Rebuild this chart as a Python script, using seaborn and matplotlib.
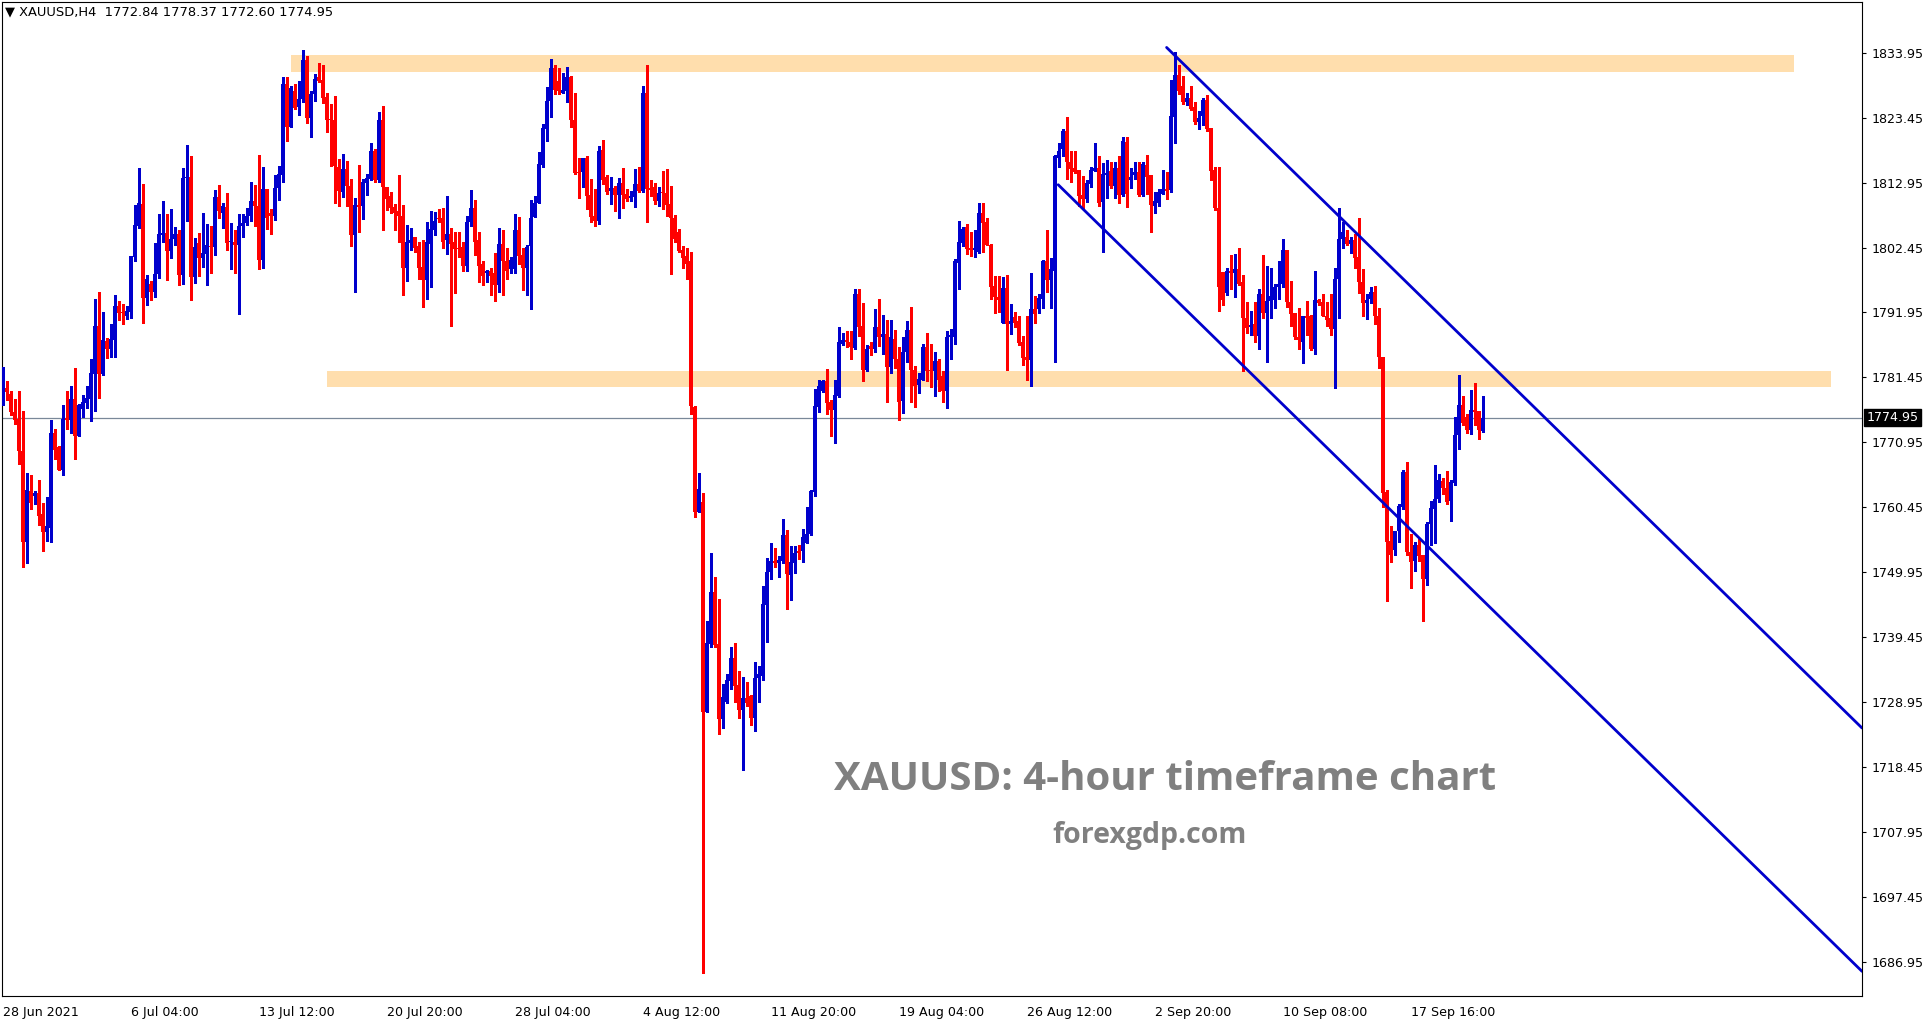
import numpy as np
import pandas as pd
import matplotlib
matplotlib.use("Agg")
import matplotlib.pyplot as plt
import seaborn as sns

# XAUUSD H4 candles (O, H, L, C)
opens = [
    1777.3, 1779.7, 1778.8, 1775.9, 1774.7, 1769.6, 1754.8, 1763.1, 1762.3, 1762.7,
    1759.3, 1756.4, 1757.1, 1772.4, 1770.2, 1766.4, 1774.9, 1774.6, 1778.0, 1771.9,
    1776.3, 1777.3, 1778.0, 1782.0, 1789.8, 1782.0, 1787.4, 1786.1, 1787.5, 1793.0,
    1792.0, 1791.3, 1792.0, 1800.9, 1806.0, 1809.5, 1794.3, 1796.5, 1795.2, 1798.2,
    1804.5, 1804.8, 1801.9, 1803.9, 1804.6, 1798.0, 1813.7, 1813.9, 1797.7, 1803.2,
    1800.7, 1801.4, 1802.7, 1802.6, 1810.6, 1808.1, 1809.0, 1803.3, 1803.4, 1802.9,
    1805.9, 1806.4, 1807.5, 1809.9, 1809.2, 1800.5, 1811.9, 1808.1, 1807.6, 1812.0,
    1814.2, 1828.9, 1822.0, 1827.7, 1825.2, 1826.4, 1832.7, 1823.4, 1827.2, 1830.1,
    1829.6, 1826.8, 1823.1, 1823.0, 1815.5, 1811.4, 1815.1, 1812.4, 1804.5, 1809.3,
    1809.1, 1812.9, 1813.6, 1818.1, 1813.3, 1823.1, 1812.2, 1810.8, 1809.0, 1808.4,
    1807.5, 1799.1, 1803.2, 1804.2, 1802.7, 1799.3, 1797.2, 1803.0, 1805.3, 1807.2,
    1807.2, 1803.6, 1804.6, 1803.4, 1802.4, 1802.6, 1799.4, 1806.6, 1808.8, 1803.6,
    1799.8, 1798.3, 1798.7, 1798.3, 1796.4, 1803.0, 1800.3, 1798.9, 1799.0, 1805.2,
    1801.2, 1799.1, 1802.7, 1807.4, 1809.7, 1815.8, 1821.6, 1826.1, 1831.5, 1829.3,
    1827.5, 1827.8, 1830.1, 1823.1, 1814.6, 1814.7, 1816.9, 1810.9, 1807.5, 1806.8,
    1818.2, 1813.8, 1811.6, 1812.0, 1810.9, 1812.9, 1811.1, 1810.5, 1810.6, 1812.7,
    1811.6, 1827.5, 1812.1, 1812.3, 1810.0, 1811.3, 1811.3, 1809.5, 1807.2, 1805.0,
    1802.0, 1801.0, 1800.2, 1776.7, 1759.7, 1761.3, 1727.4, 1738.3, 1746.8, 1738.3,
    1726.2, 1728.9, 1732.3, 1736.1, 1731.7, 1727.7, 1729.6, 1730.0, 1726.4, 1732.8,
    1733.2, 1744.7, 1749.9, 1751.7, 1751.4, 1751.8, 1756.0, 1749.5, 1751.5, 1753.4,
    1753.3, 1754.7, 1756.1, 1762.9, 1776.7, 1779.2, 1780.9, 1777.4, 1776.2, 1778.4,
    1786.9, 1787.5, 1787.2, 1786.2, 1794.9, 1789.8, 1782.6, 1786.5, 1786.0, 1789.6,
    1787.9, 1788.5, 1783.2, 1787.7, 1784.5, 1777.7, 1785.5, 1789.1, 1782.7, 1780.2,
    1781.1, 1786.3, 1782.7, 1782.4, 1784.1, 1781.7, 1779.3, 1787.9, 1788.0, 1800.0,
    1803.2, 1805.7, 1802.3, 1802.1, 1801.8, 1808.1, 1806.5, 1802.9, 1796.2, 1794.5,
    1790.2, 1795.9, 1790.0, 1791.2, 1790.5, 1787.1, 1784.8, 1784.3, 1792.5, 1792.5,
    1794.1, 1800.2, 1797.2, 1798.7, 1817.0, 1818.3, 1821.3, 1816.3, 1815.3, 1815.0,
    1811.0, 1810.3, 1812.7, 1814.9, 1815.3, 1809.8, 1814.1, 1814.8, 1812.4, 1815.3,
    1811.0, 1819.5, 1813.4, 1814.1, 1814.6, 1811.0, 1815.8, 1814.2, 1809.2, 1809.7,
    1811.1, 1811.9, 1811.7, 1823.6, 1830.3, 1828.6, 1825.9, 1826.7, 1825.1, 1822.8,
    1823.7, 1826.3, 1821.7, 1815.0, 1808.9, 1798.5, 1795.1, 1798.7, 1798.4, 1799.0,
    1796.9, 1791.1, 1789.6, 1790.1, 1788.2, 1794.9, 1791.9, 1793.8, 1793.9, 1796.0,
    1796.5, 1802.0, 1793.7, 1791.9, 1787.9, 1787.2, 1791.3, 1791.3, 1786.0, 1794.0,
    1793.7, 1791.4, 1791.1, 1789.2, 1797.3, 1803.8, 1804.1, 1803.0, 1803.7, 1800.9,
    1796.9, 1793.4, 1794.2, 1795.3, 1791.4, 1784.8, 1762.9, 1755.0, 1753.6, 1756.6,
    1760.5, 1766.1, 1753.2, 1751.7, 1754.4, 1752.8, 1748.8, 1757.7, 1760.2, 1761.7,
    1764.7, 1763.6, 1761.4, 1764.4, 1772.1, 1776.9, 1775.1, 1772.9, 1776.1, 1776.0,
    1772.84,
]
highs = [
    1783.1, 1780.9, 1779.2, 1778.0, 1779.3, 1776.0, 1766.0, 1765.7, 1763.1, 1764.9,
    1761.1, 1762.1, 1774.6, 1773.1, 1770.4, 1776.9, 1779.3, 1780.0, 1782.9, 1777.1,
    1778.6, 1780.1, 1784.5, 1794.1, 1795.2, 1792.0, 1787.8, 1790.1, 1794.7, 1793.8,
    1793.3, 1793.0, 1801.1, 1809.4, 1815.3, 1812.7, 1798.0, 1797.0, 1803.2, 1807.9,
    1810.0, 1807.9, 1808.6, 1805.8, 1805.3, 1815.3, 1819.0, 1817.2, 1804.0, 1804.8,
    1808.0, 1806.2, 1806.0, 1811.8, 1812.6, 1809.6, 1811.2, 1806.4, 1805.3, 1807.8,
    1807.9, 1808.8, 1813.0, 1812.6, 1817.4, 1815.5, 1811.9, 1808.6, 1814.2, 1815.7,
    1830.1, 1830.1, 1828.5, 1828.9, 1829.4, 1834.4, 1833.4, 1827.7, 1830.5, 1832.3,
    1831.9, 1827.5, 1825.7, 1827.0, 1816.8, 1817.6, 1816.5, 1813.5, 1810.4, 1815.8,
    1813.5, 1814.3, 1819.3, 1818.4, 1824.3, 1825.4, 1812.2, 1811.5, 1809.5, 1814.1,
    1809.3, 1806.1, 1805.6, 1804.2, 1803.4, 1803.7, 1806.5, 1808.4, 1808.2, 1808.7,
    1808.8, 1810.7, 1805.6, 1805.0, 1805.0, 1803.4, 1807.6, 1811.7, 1810.2, 1805.0,
    1800.3, 1798.8, 1799.2, 1801.5, 1805.6, 1805.2, 1802.3, 1800.9, 1807.8, 1807.4,
    1802.3, 1802.9, 1810.1, 1810.7, 1817.9, 1822.4, 1828.4, 1832.9, 1832.0, 1831.5,
    1830.7, 1831.7, 1830.2, 1827.5, 1816.9, 1817.0, 1817.2, 1813.6, 1811.9, 1818.8,
    1819.8, 1814.2, 1813.8, 1812.4, 1813.7, 1815.3, 1811.9, 1811.6, 1815.2, 1815.5,
    1828.5, 1832.0, 1813.4, 1812.9, 1812.3, 1814.9, 1815.2, 1812.4, 1807.7, 1805.4,
    1802.7, 1802.3, 1801.8, 1776.8, 1766.0, 1762.7, 1742.1, 1753.0, 1749.1, 1745.6,
    1731.9, 1733.4, 1737.9, 1738.5, 1734.0, 1733.0, 1732.2, 1730.1, 1735.4, 1734.7,
    1747.7, 1752.3, 1754.6, 1753.9, 1752.6, 1758.5, 1756.7, 1754.2, 1754.2, 1754.3,
    1756.9, 1760.5, 1763.3, 1779.5, 1781.1, 1781.0, 1782.8, 1777.8, 1781.0, 1789.6,
    1788.7, 1788.9, 1788.9, 1795.7, 1795.7, 1793.4, 1786.7, 1787.2, 1792.5, 1794.1,
    1791.6, 1790.8, 1790.7, 1789.1, 1786.4, 1787.9, 1790.5, 1792.9, 1783.3, 1782.1,
    1786.8, 1788.7, 1786.9, 1785.6, 1784.5, 1782.4, 1789.0, 1789.3, 1800.6, 1806.8,
    1805.7, 1806.3, 1805.0, 1805.3, 1809.7, 1809.7, 1807.3, 1803.0, 1797.9, 1797.8,
    1797.6, 1798.0, 1793.3, 1792.1, 1791.4, 1788.1, 1791.3, 1798.3, 1794.6, 1794.9,
    1800.4, 1805.3, 1800.7, 1817.4, 1819.4, 1821.6, 1823.6, 1818.1, 1818.1, 1815.0,
    1814.0, 1813.3, 1815.4, 1819.4, 1817.3, 1816.1, 1816.6, 1816.2, 1816.2, 1817.3,
    1820.3, 1820.3, 1815.3, 1816.3, 1816.3, 1816.2, 1817.4, 1814.2, 1811.4, 1811.9,
    1815.0, 1814.6, 1829.6, 1834.1, 1832.0, 1830.2, 1827.4, 1828.6, 1825.9, 1824.6,
    1826.7, 1827.1, 1821.7, 1815.4, 1815.4, 1798.5, 1799.1, 1801.2, 1801.4, 1802.3,
    1798.0, 1793.6, 1792.2, 1793.6, 1795.7, 1801.2, 1799.5, 1799.2, 1796.6, 1800.2,
    1803.9, 1802.0, 1797.1, 1791.9, 1792.6, 1791.3, 1793.8, 1791.6, 1798.7, 1794.2,
    1795.0, 1793.7, 1795.0, 1799.2, 1808.8, 1806.6, 1805.3, 1804.1, 1804.7, 1807.3,
    1798.9, 1794.9, 1796.0, 1796.3, 1792.7, 1784.8, 1763.2, 1757.4, 1756.6, 1760.9,
    1766.4, 1767.8, 1756.2, 1754.8, 1755.3, 1752.8, 1758.1, 1761.5, 1767.3, 1765.8,
    1765.2, 1766.3, 1764.8, 1775.1, 1781.9, 1778.4, 1775.6, 1779.4, 1780.5, 1776.0,
    1778.37,
]
lows = [
    1777.0, 1777.8, 1775.4, 1773.9, 1767.4, 1750.8, 1751.4, 1760.2, 1760.9, 1757.6,
    1753.4, 1755.0, 1754.8, 1768.3, 1766.4, 1765.7, 1773.1, 1772.4, 1768.3, 1771.9,
    1775.1, 1776.5, 1774.4, 1776.0, 1778.1, 1781.9, 1784.6, 1784.7, 1784.7, 1790.8,
    1790.0, 1790.9, 1791.0, 1800.3, 1805.6, 1790.3, 1793.2, 1794.0, 1794.5, 1797.5,
    1803.4, 1797.2, 1800.7, 1802.9, 1796.4, 1796.5, 1806.8, 1794.0, 1796.7, 1797.8,
    1799.3, 1796.4, 1798.3, 1801.3, 1807.2, 1805.6, 1802.1, 1799.0, 1798.3, 1791.7,
    1804.1, 1806.1, 1806.7, 1806.0, 1798.9, 1799.1, 1805.4, 1804.7, 1806.9, 1810.1,
    1813.0, 1819.7, 1822.0, 1824.9, 1823.8, 1826.0, 1822.6, 1820.3, 1826.1, 1829.2,
    1825.8, 1821.1, 1815.6, 1809.7, 1809.1, 1810.6, 1809.1, 1802.7, 1795.2, 1805.0,
    1807.1, 1811.0, 1813.4, 1813.0, 1813.1, 1805.2, 1808.5, 1808.1, 1805.3, 1803.3,
    1794.8, 1797.0, 1802.1, 1801.7, 1797.4, 1792.9, 1794.2, 1796.1, 1804.5, 1806.5,
    1802.4, 1801.4, 1789.8, 1795.1, 1800.9, 1798.6, 1798.6, 1806.0, 1801.2, 1796.8,
    1796.4, 1796.8, 1794.8, 1793.8, 1795.3, 1794.8, 1797.4, 1798.3, 1798.3, 1799.8,
    1795.5, 1794.7, 1792.5, 1807.4, 1809.7, 1815.4, 1819.7, 1823.6, 1827.3, 1827.3,
    1827.4, 1826.0, 1822.0, 1814.3, 1810.4, 1812.2, 1808.7, 1806.5, 1806.0, 1806.2,
    1812.7, 1811.1, 1809.5, 1808.4, 1807.2, 1808.8, 1810.0, 1809.9, 1809.0, 1811.4,
    1811.4, 1806.6, 1810.7, 1809.5, 1809.2, 1808.6, 1807.6, 1798.1, 1803.3, 1801.7,
    1799.1, 1797.3, 1775.6, 1758.8, 1759.7, 1685.2, 1727.4, 1737.8, 1737.8, 1723.8,
    1724.7, 1728.8, 1731.1, 1728.9, 1726.3, 1717.9, 1728.3, 1725.2, 1724.2, 1729.0,
    1732.5, 1738.7, 1748.9, 1750.8, 1749.1, 1751.5, 1744.0, 1745.5, 1749.8, 1752.0,
    1751.6, 1754.6, 1756.0, 1762.3, 1775.9, 1779.1, 1775.6, 1772.0, 1770.9, 1778.3,
    1786.7, 1786.3, 1784.4, 1786.1, 1788.1, 1780.8, 1782.4, 1785.1, 1785.5, 1786.5,
    1785.3, 1777.4, 1782.2, 1782.9, 1774.6, 1775.7, 1783.9, 1777.4, 1776.6, 1778.9,
    1781.0, 1780.9, 1779.9, 1778.5, 1779.3, 1777.4, 1776.5, 1784.4, 1786.9, 1795.7,
    1802.7, 1801.4, 1801.0, 1800.9, 1801.6, 1801.7, 1802.8, 1794.1, 1791.9, 1792.0,
    1790.2, 1782.7, 1788.4, 1789.6, 1786.7, 1783.5, 1781.1, 1780.1, 1790.2, 1791.9,
    1792.6, 1795.2, 1792.6, 1783.9, 1815.5, 1817.3, 1813.6, 1813.0, 1814.5, 1809.2,
    1808.9, 1809.8, 1812.3, 1814.9, 1809.2, 1801.8, 1810.4, 1812.0, 1810.4, 1809.6,
    1810.8, 1809.0, 1812.1, 1813.5, 1810.7, 1810.8, 1811.1, 1805.0, 1808.1, 1809.1,
    1811.1, 1810.3, 1811.5, 1819.4, 1827.3, 1825.6, 1825.5, 1824.7, 1822.5, 1821.6,
    1822.3, 1821.3, 1813.3, 1808.5, 1792.2, 1793.1, 1794.8, 1795.8, 1794.5, 1796.4,
    1782.4, 1788.6, 1788.3, 1787.1, 1786.0, 1791.1, 1784.0, 1791.0, 1792.6, 1794.1,
    1796.1, 1792.9, 1789.7, 1787.6, 1786.1, 1783.8, 1788.3, 1785.8, 1785.3, 1793.1,
    1791.3, 1789.7, 1788.3, 1779.8, 1791.0, 1802.3, 1802.8, 1801.6, 1799.1, 1795.1,
    1791.4, 1790.9, 1793.5, 1790.0, 1783.0, 1760.5, 1745.3, 1751.6, 1752.7, 1754.8,
    1760.1, 1752.7, 1747.4, 1750.2, 1751.7, 1742.1, 1747.8, 1754.3, 1754.6, 1761.3,
    1762.6, 1761.0, 1758.2, 1764.0, 1769.8, 1773.7, 1772.5, 1772.3, 1773.7, 1771.5,
    1772.60,
]
closes = [
    1779.7, 1779.1, 1775.8, 1774.6, 1769.6, 1754.8, 1763.3, 1761.1, 1762.7, 1759.1,
    1756.4, 1757.4, 1772.4, 1769.7, 1766.4, 1774.7, 1774.6, 1778.0, 1771.9, 1776.9,
    1777.5, 1778.1, 1782.2, 1789.8, 1782.0, 1787.5, 1786.1, 1787.6, 1793.0, 1791.9,
    1791.9, 1792.2, 1801.1, 1806.1, 1809.6, 1794.3, 1797.4, 1795.2, 1798.2, 1804.6,
    1804.8, 1801.9, 1803.9, 1804.6, 1798.0, 1813.7, 1813.9, 1797.7, 1802.5, 1800.7,
    1801.6, 1802.9, 1802.6, 1810.6, 1808.3, 1809.1, 1803.2, 1803.4, 1802.9, 1805.9,
    1806.4, 1807.5, 1809.9, 1809.2, 1800.5, 1811.9, 1807.2, 1807.5, 1812.1, 1814.3,
    1828.9, 1822.0, 1828.2, 1825.0, 1826.5, 1832.7, 1823.4, 1827.3, 1829.7, 1829.4,
    1826.6, 1823.0, 1823.0, 1815.6, 1811.6, 1815.1, 1812.4, 1804.5, 1809.3, 1809.0,
    1813.0, 1813.7, 1818.1, 1813.3, 1823.0, 1812.2, 1810.3, 1808.8, 1808.1, 1807.5,
    1799.1, 1803.4, 1803.7, 1802.3, 1799.1, 1797.2, 1803.3, 1805.4, 1806.8, 1807.1,
    1803.4, 1804.6, 1803.0, 1802.2, 1802.2, 1799.4, 1806.6, 1808.8, 1803.4, 1799.5,
    1797.9, 1798.7, 1797.9, 1796.4, 1803.0, 1800.3, 1798.7, 1800.5, 1805.2, 1801.1,
    1799.1, 1802.6, 1807.3, 1809.7, 1815.9, 1821.8, 1826.1, 1831.5, 1828.0, 1827.7,
    1827.9, 1830.1, 1823.0, 1814.5, 1814.5, 1816.9, 1810.8, 1807.4, 1806.8, 1818.1,
    1813.3, 1811.5, 1812.0, 1810.9, 1812.9, 1811.0, 1810.3, 1810.7, 1812.7, 1811.6,
    1827.5, 1811.9, 1811.8, 1810.0, 1811.3, 1811.2, 1809.4, 1807.2, 1803.8, 1801.9,
    1800.7, 1799.8, 1776.8, 1759.7, 1763.4, 1727.4, 1738.5, 1746.8, 1738.2, 1726.2,
    1729.8, 1732.5, 1736.1, 1731.6, 1727.7, 1729.6, 1728.8, 1726.4, 1732.8, 1733.4,
    1744.8, 1750.0, 1751.8, 1751.4, 1751.9, 1756.0, 1749.6, 1751.6, 1753.0, 1753.1,
    1755.7, 1756.2, 1763.1, 1776.8, 1780.1, 1780.9, 1777.3, 1776.1, 1778.6, 1787.1,
    1787.5, 1787.1, 1786.3, 1794.9, 1789.6, 1782.6, 1786.0, 1786.0, 1789.6, 1787.9,
    1788.5, 1783.2, 1787.9, 1784.5, 1777.5, 1785.5, 1789.1, 1782.7, 1780.1, 1781.2,
    1786.3, 1782.4, 1782.5, 1784.1, 1781.0, 1779.3, 1787.9, 1788.3, 1800.2, 1803.3,
    1805.4, 1802.2, 1802.1, 1802.4, 1808.0, 1806.4, 1802.9, 1796.1, 1794.4, 1793.9,
    1795.9, 1790.0, 1790.6, 1790.2, 1787.0, 1784.6, 1784.3, 1792.5, 1791.7, 1794.3,
    1800.2, 1797.2, 1798.9, 1817.3, 1818.0, 1821.3, 1816.2, 1815.2, 1814.6, 1810.8,
    1810.3, 1812.9, 1815.0, 1815.3, 1809.6, 1814.3, 1814.5, 1812.4, 1815.3, 1811.0,
    1819.6, 1811.1, 1813.9, 1814.6, 1811.0, 1816.0, 1813.8, 1809.4, 1809.9, 1811.4,
    1811.9, 1811.6, 1823.7, 1830.3, 1827.8, 1825.9, 1826.7, 1824.8, 1822.8, 1823.4,
    1826.3, 1821.6, 1814.8, 1808.8, 1796.0, 1794.0, 1798.7, 1798.4, 1799.0, 1796.6,
    1791.1, 1789.5, 1789.9, 1788.2, 1794.9, 1791.9, 1793.8, 1794.6, 1796.1, 1796.5,
    1802.0, 1793.7, 1791.7, 1787.9, 1787.5, 1791.3, 1791.0, 1786.0, 1794.0, 1793.5,
    1791.3, 1790.8, 1789.2, 1797.3, 1803.8, 1804.9, 1803.0, 1803.7, 1800.8, 1796.9,
    1793.4, 1793.9, 1795.3, 1791.3, 1784.8, 1762.8, 1754.8, 1752.8, 1756.6, 1760.6,
    1766.1, 1753.2, 1751.6, 1754.3, 1752.6, 1748.8, 1757.8, 1760.3, 1761.7, 1764.9,
    1763.5, 1761.3, 1764.5, 1772.1, 1776.9, 1774.0, 1772.9, 1776.1, 1775.9, 1773.0,
    1774.95,
]

# date labels every 32 bars
date_labels = ["28 Jun 2021", "6 Jul 04:00", "13 Jul 12:00", "20 Jul 20:00",
               "28 Jul 04:00", "4 Aug 12:00", "11 Aug 20:00", "19 Aug 04:00",
               "26 Aug 12:00", "2 Sep 20:00", "10 Sep 08:00", "17 Sep 16:00"]
label_step = 32
price_ticks = [1833.95, 1823.45, 1812.95, 1802.45, 1791.95, 1781.45, 1770.95,
               1760.45, 1749.95, 1739.45, 1728.95, 1718.45, 1707.95, 1697.45, 1686.95]
last_price = 1774.95

# supply/demand zones: (bar start, bar end, price low, price high)
zone_top = (72, 447.75, 1830.8, 1833.5)
zone_mid = (81, 457.0, 1779.95, 1782.5)
# descending channel (bar, price)
upper_line = pd.DataFrame({"bar": [290.9, 464.75], "price": [1834.8, 1724.75]})
lower_line = pd.DataFrame({"bar": [263.8, 464.75], "price": [1812.6, 1685.4]})

df = pd.DataFrame({"open": opens, "high": highs, "low": lows, "close": closes})
df["bar"] = np.arange(len(df))
df["up"] = df["close"] >= df["open"]

sns.set_theme(style="white")
plt.rcParams["font.family"] = ["DejaVu Sans"]

BLUE = "#0000CC"
RED = "#FF0000"
FS = 9.1

fig = plt.figure(figsize=(19.33, 10.23), dpi=100)
ax = fig.add_axes([2 / 1933, 27 / 1023, 1860 / 1933, 994 / 1023])
ax.set_facecolor("white")

# zones
for z in (zone_top, zone_mid):
    ax.fill_between([z[0], z[1]], z[2], z[3], color="#FFDEAD", lw=0, zorder=1)

# current price line
ax.axhline(last_price, color="#7A8899", lw=0.9, zorder=2)

# candles
colors = np.where(df["up"], BLUE, RED)
ax.vlines(df["bar"], df["low"], df["high"], colors=colors, lw=0.9,
          zorder=3, antialiased=False)
body_lo = np.minimum(df["open"], df["close"])
body_h = np.maximum((df["close"] - df["open"]).abs(), 0.17)
ax.bar(df["bar"], body_h, bottom=body_lo, width=0.78, color=colors,
       lw=0, zorder=4, antialiased=False)

# channel lines
for line in (upper_line, lower_line):
    sns.lineplot(data=line, x="bar", y="price", ax=ax, color=BLUE,
                 lw=2.0, zorder=5, legend=False)

ax.set_xlim(-0.25, 464.75)
ax.set_ylim(1681.41, 1842.15)
ax.set_xlabel("")
ax.set_ylabel("")

# axes cosmetics
for sp in ax.spines.values():
    sp.set_color("black")
    sp.set_linewidth(0.8)
ax.yaxis.tick_right()
ax.set_yticks(price_ticks)
ax.set_yticklabels([f"{p:.2f}" for p in price_ticks])
ax.set_xticks([i * label_step for i in range(len(date_labels))])
ax.set_xticklabels(date_labels, ha="left")
ax.tick_params(axis="both", direction="out", length=3, width=0.8,
               colors="black", labelsize=FS, pad=4)
ax.grid(False)

# last price tag on the price scale
ax.text(1.0025, last_price, f"{last_price:.2f}", transform=ax.get_yaxis_transform(),
        ha="left", va="center", fontsize=FS, color="white", zorder=10,
        bbox=dict(boxstyle="square,pad=0.18", fc="black", ec="black"), clip_on=False)

# header
fig.text(5 / 1933, 1 - 12 / 1023,
         "\u25bc XAUUSD,H4  1772.84 1778.37 1772.60 1774.95",
         ha="left", va="center", fontsize=9.4, color="black")

# watermark
ax.text(290.5, 1716.5, "XAUUSD: 4-hour timeframe chart", ha="center", va="center",
        fontsize=29, fontweight="bold", color="#808080", family="Open Sans", zorder=6)
ax.text(286.75, 1707.4, "forexgdp.com", ha="center", va="center",
        fontsize=20.5, fontweight="bold", color="#808080", family="Open Sans", zorder=6)

fig.savefig("out.png", dpi=100, facecolor="white")
